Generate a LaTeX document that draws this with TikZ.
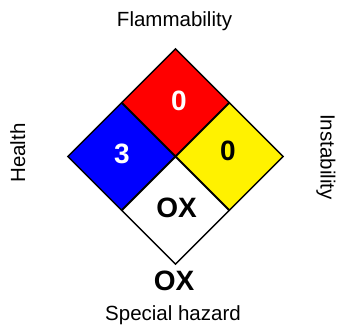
\documentclass[tikz,border=0pt]{standalone}
\usepackage{fontspec}
\setmainfont{Liberation Sans}
\usepackage{tikz}
\usetikzlibrary{shapes.geometric,positioning}

\begin{document}
\begin{tikzpicture}[x=1pt, y=-1pt, every node/.style={align=center}]
\tikzset{
  cell/.style={diamond, draw=black, line width=1.4pt, minimum width=108pt, minimum height=108pt, inner sep=0pt},
  fire/.style={cell, fill=red},
  health/.style={cell, fill=blue},
  react/.style={cell, fill=yellow},
  special/.style={cell, fill=white},
  rating/.style={font=\fontsize{28}{30}\selectfont\bfseries, anchor=base, inner sep=0pt},
  caption/.style={font=\fontsize{20.5}{23}\selectfont, anchor=base, inner sep=0pt}
}
\useasboundingbox (0,0) rectangle (338,325);
% the four fields of the diamond
\node[fire] (fire) at (175.5,102.5) {};
\node[health] (health) at (121.5,156.5) {};
\node[react] (react) at (229.5,156.5) {};
\node[special] (special) at (175.5,210.5) {};
% ratings
\node[rating, text=white] (firenum) at (179,110.5) {0};
\node[rating, text=white] (healthnum) at (122,163) {3};
\node[rating] (reactnum) at (228,160) {0};
\node[rating] (specialtxt) at (176.5,217.5) {OX};
\node[rating] (specialout) at (174,290) {OX};
% captions
\node[caption] (flam) at (174.5,26.5) {Flammability};
\node[caption] (spec) at (173,320) {Special hazard};
\node[caption, rotate=90] (hlth) at (25,153) {Health};
\node[caption, rotate=-90] (inst) at (320.5,157) {Instability};
\end{tikzpicture}
\end{document}
